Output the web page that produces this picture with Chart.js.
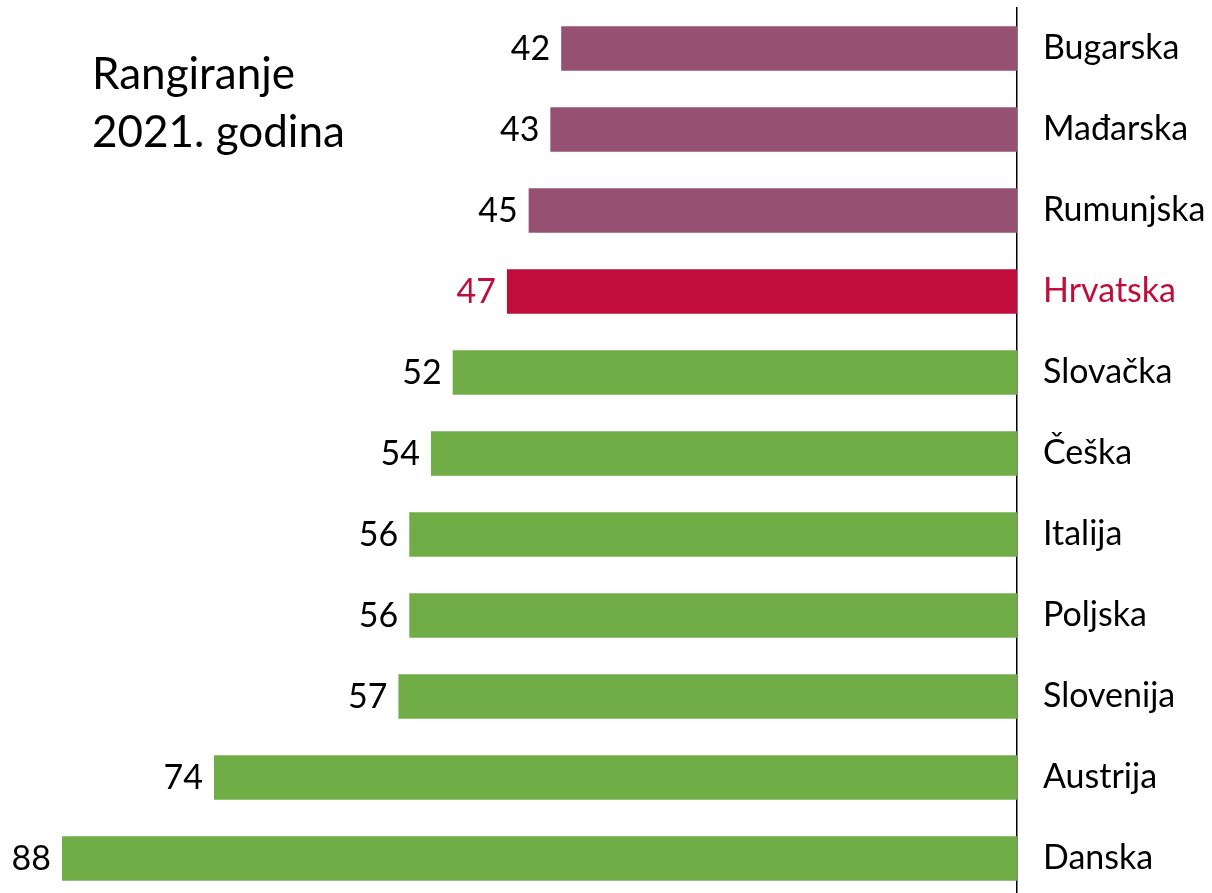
<!DOCTYPE html>
<html>
<head>
<meta charset="utf-8">
<script src="https://cdn.jsdelivr.net/npm/chart.js@4.4.1/dist/chart.umd.min.js"></script>
<style>
  html, body { margin: 0; padding: 0; background: #fff; overflow: hidden; }
  #wrap { position: relative; width: 1212px; height: 900px; }
  #title { position: absolute; left: 92px; top: 43px; font-family: Lato, sans-serif; font-size: 44px; line-height: 58px; color: #000; white-space: pre; }
</style>
</head>
<body>
<div id="wrap">
  <canvas id="c" width="1212" height="900"></canvas>
  <div id="title">Rangiranje
2021. godina</div>
</div>
<script>
const countries = ["Bugarska","Mađarska","Rumunjska","Hrvatska","Slovačka","Češka","Italija","Poljska","Slovenija","Austrija","Danska"];
const values = [42,43,45,47,52,54,56,56,57,74,88];
const groups = ["top","top","top","hr","green","green","green","green","green","green","green"];
const groupColors = { top: "#955072", hr: "#C00D3C", green: "#70AD47" };
const labelColors = { top: "#000000", hr: "#C00D3C", green: "#000000" };

const FONT = "Lato, sans-serif";

const valueLabels = {
  id: "valueLabels",
  afterDatasetsDraw(chart) {
    const ctx = chart.ctx;
    const meta = chart.getDatasetMeta(0);
    ctx.save();
    ctx.font = "34px " + FONT;
    ctx.textAlign = "right";
    ctx.textBaseline = "middle";
    meta.data.forEach((bar, i) => {
      ctx.fillStyle = labelColors[groups[i]];
      ctx.fillText(String(values[i]), bar.x - 11, bar.y + 1);
    });
    ctx.restore();
  }
};

new Chart(document.getElementById("c"), {
  type: "bar",
  data: {
    labels: countries,
    datasets: [{
      data: values,
      backgroundColor: groups.map(g => groupColors[g]),
      borderWidth: 0,
      barPercentage: 0.55,
      categoryPercentage: 1
    }]
  },
  options: {
    indexAxis: "y",
    responsive: false,
    animation: false,
    layout: { padding: { left: 62, top: 8, right: 0, bottom: 1 } },
    plugins: { legend: { display: false }, tooltip: { enabled: false } },
    scales: {
      x: { display: false, reverse: true, min: 0, max: 88 },
      y: {
        position: "right",
        afterFit(scale) { scale.width = 195; scale.paddingTop = 0; scale.paddingBottom = 0; },
        grid: { display: false, drawTicks: false },
        border: { display: true, color: "#000000", width: 1.5 },
        ticks: {
          padding: 26,
          font: { family: FONT, size: 34 },
          color: (ctx) => labelColors[groups[ctx.index]]
        }
      }
    }
  },
  plugins: [valueLabels]
});
</script>
</body>
</html>
